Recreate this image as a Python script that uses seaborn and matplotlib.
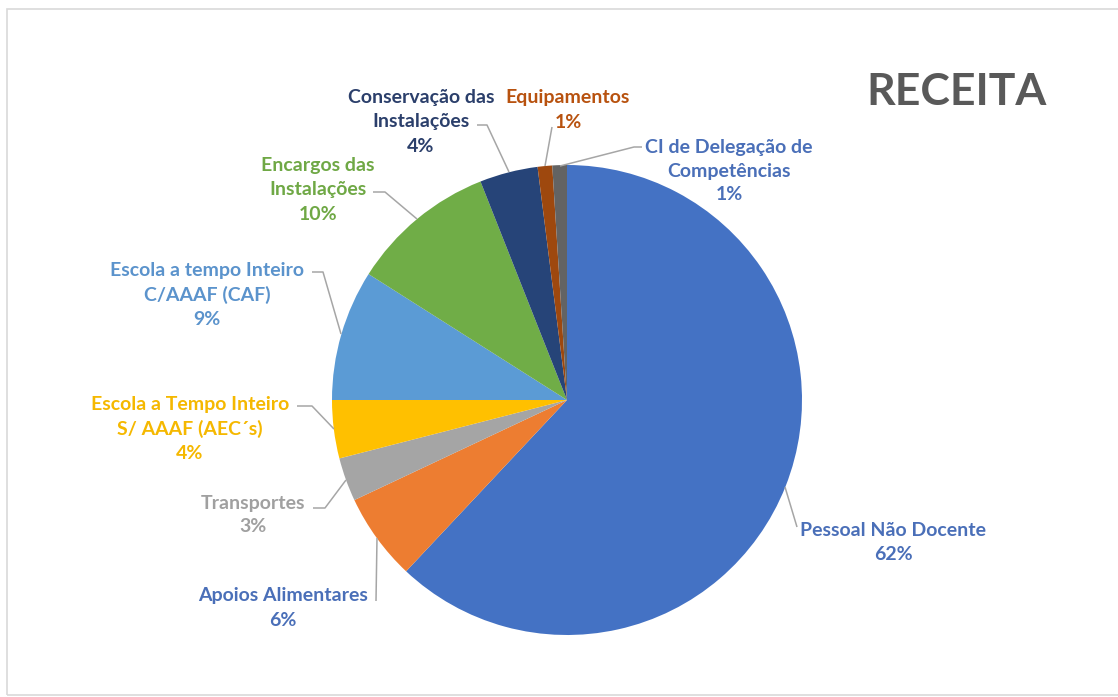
import matplotlib
matplotlib.use("Agg")
import matplotlib.pyplot as plt
import seaborn as sns
from matplotlib.patches import Rectangle

# data
categorias = ["Pessoal Não Docente", "Apoios Alimentares", "Transportes",
              "Escola a Tempo Inteiro\nS/ AAAF (AEC´s)",
              "Escola a tempo Inteiro\nC/AAAF (CAF)",
              "Encargos das\nInstalações", "Conservação das\nInstalações",
              "Equipamentos", "CI de Delegação de\nCompetências"]
valores = [62, 6, 3, 4, 9, 10, 4, 1, 1]
cores = ["#4472C4", "#ED7D31", "#A5A5A5", "#FFC000", "#5B9BD5",
         "#70AD47", "#264478", "#9E480E", "#636363"]
cores_texto = ["#4A6FB8", "#4A6FB8", "#A0A0A0", "#F5B800", "#5B93CC",
               "#6FA845", "#2B3F6B", "#B8520F", "#4A6FB8"]

# label layout (image pixel coords): text centre, leader polyline
pos_texto = [(893, 542), (283, 608), (253, 515), (190, 429), (207, 295),
             (318, 190), (421, 122), (568, 110), (729, 171)]
guias = [[(785, 487), (797, 527)],
         [(377, 538), (376, 601)],
         [(346, 480), (325, 508), (313, 508)],
         [(334, 429), (312, 406), (297, 406)],
         [(341, 334), (323, 272), (312, 272)],
         [(417, 219), (385, 192), (373, 192)],
         [(509, 172), (487, 125), (477, 125)],
         [(545, 166), (552, 127)],
         [(560, 166), (634, 147), (642, 147)]]

sns.set_theme(style="white")
plt.rcParams["font.family"] = ["Lato", "DejaVu Sans"]

W, H = 1118, 697
fig = plt.figure(figsize=(W / 100, H / 100), dpi=100)
ax = fig.add_axes([0, 0, 1, 1])

# chart frame
ax.add_patch(Rectangle((7, 2), W + 10, H - 11, fill=False,
                       edgecolor="#D9D9D9", linewidth=1.2))

ax.pie(valores, colors=cores, startangle=90, counterclock=False,
       center=(567, H - 400), radius=235, frame=True,
       wedgeprops=dict(linewidth=0))
ax.set_xlim(0, W)
ax.set_ylim(0, H)
ax.set_aspect("equal")
ax.axis("off")

for i, cat in enumerate(categorias):
    pts = guias[i]
    ax.plot([p[0] for p in pts], [H - p[1] for p in pts],
            color="#A6A6A6", linewidth=1.1, solid_capstyle="butt")
    tx, ty = pos_texto[i]
    ax.text(tx, H - ty, "{}\n{}%".format(cat, valores[i]), ha="center",
            va="center", fontsize=14, fontweight="bold",
            color=cores_texto[i], linespacing=1.5)

ax.text(957, H - 92, "RECEITA", ha="center", va="center", fontsize=32,
        fontweight="bold", color="#595959")

fig.savefig("out.png", dpi=100)
